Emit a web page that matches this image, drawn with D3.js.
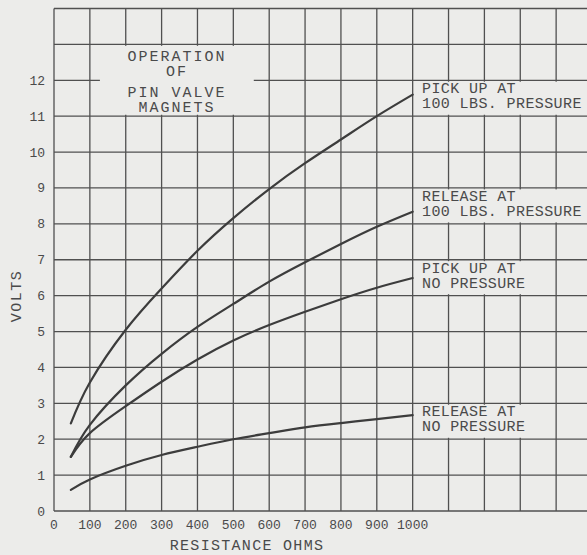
<!DOCTYPE html>
<html>
  <head>
    <meta charset='utf-8' />
    <title>Operation of Pin Valve Magnets</title>
    <style>
      body { margin: 0; background-color: #ececea; }
      svg { display: block; }
      text { font-family: "Liberation Mono", "DejaVu Sans Mono", monospace; fill: #4a4a4a; }
    </style>
  </head>
<body>
  <svg id="chart" width="587" height="555"></svg>

  <script src="https://cdn.jsdelivr.net/npm/d3@7"></script>
  <script>
    // values
    const resistance = [47, 100, 200, 300, 400, 500, 600, 700, 800, 900, 1000];
    const pickUp100 = [2.44, 3.58, 5.05, 6.2, 7.25, 8.16, 8.97, 9.69, 10.35, 11.0, 11.6];
    const release100 = [1.51, 2.4, 3.5, 4.38, 5.13, 5.77, 6.39, 6.93, 7.44, 7.92, 8.34];
    const pickUpNone = [1.51, 2.17, 2.92, 3.6, 4.22, 4.75, 5.18, 5.55, 5.9, 6.22, 6.49];
    const releaseNone = [0.59, 0.88, 1.26, 1.56, 1.79, 2.0, 2.17, 2.33, 2.45, 2.56, 2.67];

    const xTicks = [0, 100, 200, 300, 400, 500, 600, 700, 800, 900, 1000];
    const yTicks = [0, 1, 2, 3, 4, 5, 6, 7, 8, 9, 10, 11, 12];
    const curveNames = [
      ["PICK UP AT", "100 LBS. PRESSURE"],
      ["RELEASE AT", "100 LBS. PRESSURE"],
      ["PICK UP AT", "NO PRESSURE"],
      ["RELEASE AT", "NO PRESSURE"]
    ];
    const titleLines = ["OPERATION", "OF", "PIN VALVE", "MAGNETS"];

    const bg = "#ececea";
    const ink = "#505050";

    const svg = d3.select("#chart");

    const xScale = d3.scaleLinear().domain([0, 1500]).range([54, 592]);
    const yScale = d3.scaleLinear().domain([0, 14]).range([511, 8.5]);

    // grid
    const grid = svg.append("g").attr("stroke", ink).attr("stroke-width", 1.3);
    grid.selectAll(".v").data(d3.range(0, 1600, 100)).enter().append("line")
      .attr("x1", d => xScale(d)).attr("x2", d => xScale(d))
      .attr("y1", yScale(0)).attr("y2", yScale(14));
    grid.selectAll(".h").data(d3.range(0, 15)).enter().append("line")
      .attr("x1", xScale(0)).attr("x2", xScale(1500))
      .attr("y1", d => yScale(d)).attr("y2", d => yScale(d));

    // blank boxes behind the lettering
    const boxes = [
      { x0: 128, x1: 557, y0: 11.04, y1: 12.96 },
      { x0: 1010, x1: 1500, y0: 11.04, y1: 11.96 },
      { x0: 1010, x1: 1500, y0: 8.04, y1: 8.96 },
      { x0: 1010, x1: 1360, y0: 6.04, y1: 6.96 },
      { x0: 1010, x1: 1360, y0: 2.04, y1: 2.96 }
    ];
    svg.append("g").selectAll("rect").data(boxes).enter().append("rect")
      .attr("x", d => xScale(d.x0))
      .attr("y", d => yScale(d.y1))
      .attr("width", d => xScale(d.x1) - xScale(d.x0))
      .attr("height", d => yScale(d.y0) - yScale(d.y1))
      .attr("fill", bg);

    // curves
    const series = [pickUp100, release100, pickUpNone, releaseNone];
    const line = d3.line()
      .x((d, i) => xScale(resistance[i]))
      .y(d => yScale(d))
      .curve(d3.curveNatural);
    svg.append("g").selectAll("path").data(series).enter().append("path")
      .attr("d", d => line(d))
      .attr("fill", "none")
      .attr("stroke", "#3c3c3c")
      .attr("stroke-width", 2.2)
      .attr("stroke-linecap", "round");

    // curve labels
    const labelTops = [12, 9, 7, 3];
    curveNames.forEach((lines, k) => {
      lines.forEach((t, j) => {
        svg.append("text")
          .attr("x", xScale(1026))
          .attr("y", yScale(labelTops[k]) + 13 + j * 15)
          .attr("font-size", 15)
          .attr("letter-spacing", 0.4)
          .text(t);
      });
    });

    // title
    titleLines.forEach((t, j) => {
      svg.append("text")
        .attr("x", xScale(343))
        .attr("y", yScale(13) + 17 + j * 15 + (j > 1 ? 6 : 0))
        .attr("text-anchor", "middle")
        .attr("font-size", 15)
        .attr("letter-spacing", 2)
        .text(t);
    });

    // tick labels
    svg.append("g").selectAll("text").data(xTicks).enter().append("text")
      .attr("x", d => xScale(d))
      .attr("y", 529)
      .attr("text-anchor", "middle")
      .attr("font-size", 13)
      .text(d => d);
    svg.append("g").selectAll("text").data(yTicks).enter().append("text")
      .attr("x", 45)
      .attr("y", d => yScale(d) + 4.5)
      .attr("text-anchor", "end")
      .attr("font-size", 13)
      .text(d => d);

    // axis titles
    svg.append("text")
      .attr("transform", "translate(21,296) rotate(-90)")
      .attr("text-anchor", "middle")
      .attr("font-size", 15)
      .attr("letter-spacing", 1.5)
      .text("VOLTS");
    svg.append("text")
      .attr("x", 247)
      .attr("y", 550)
      .attr("text-anchor", "middle")
      .attr("font-size", 15)
      .attr("letter-spacing", 1.3)
      .text("RESISTANCE OHMS");
  </script>
</body>
</html>
